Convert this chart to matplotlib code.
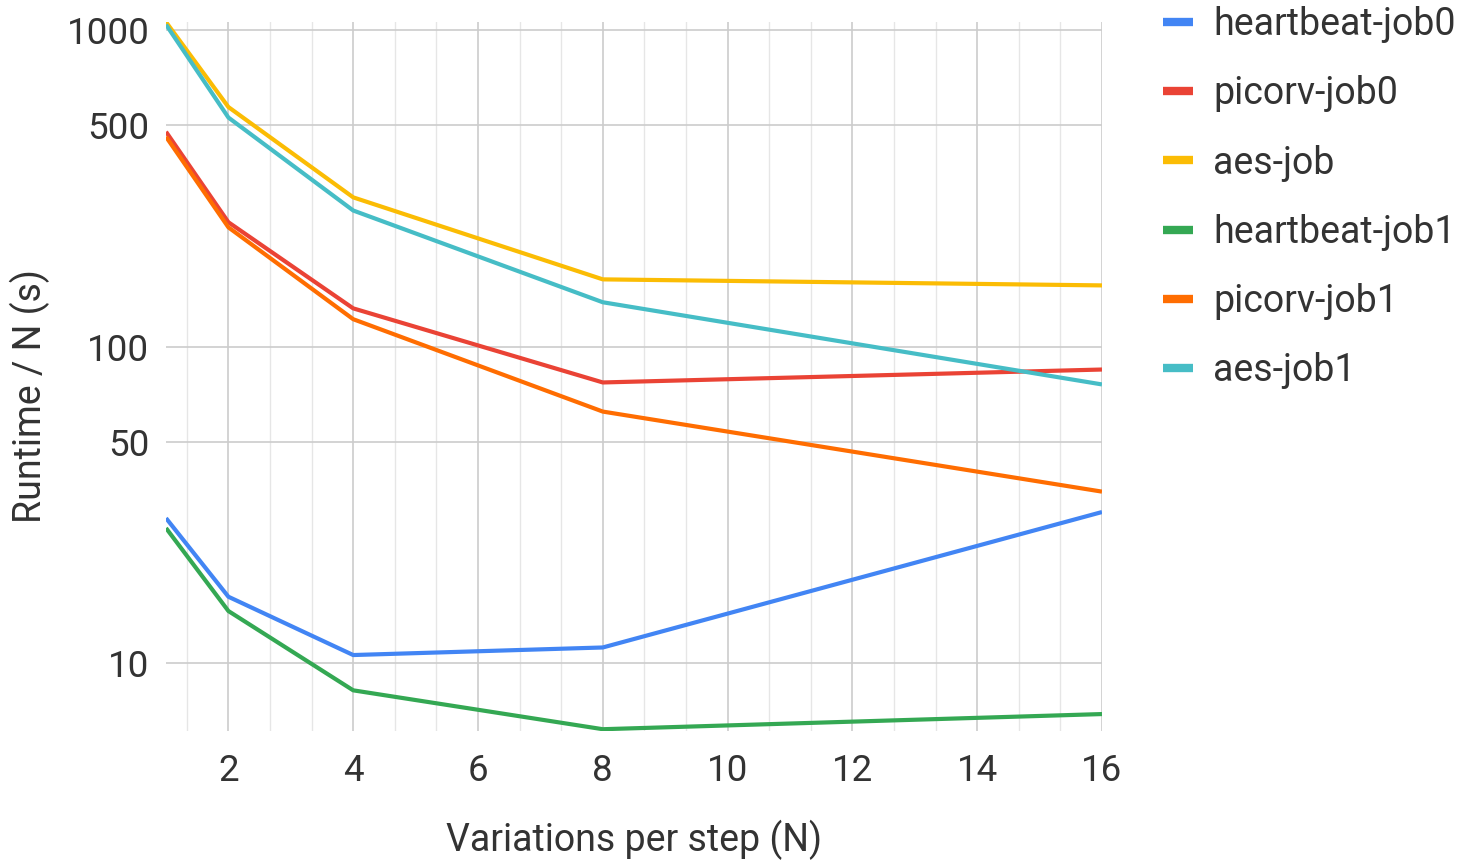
import matplotlib
matplotlib.use("Agg")
import matplotlib.pyplot as plt
from matplotlib.ticker import FixedLocator, MultipleLocator, NullFormatter, NullLocator

plt.rcParams['font.family'] = ['Roboto', 'DejaVu Sans']

# Data
n_values = [1, 2, 4, 8, 16]
series_names = ["heartbeat-job0", "picorv-job0", "aes-job",
                "heartbeat-job1", "picorv-job1", "aes-job1"]
heartbeat_job0 = [28.7, 16.2, 10.6, 11.2, 30.0]
picorv_job0 = [477, 247, 132, 77, 84.6]
aes_job = [1060, 571, 296, 163, 156]
heartbeat_job1 = [26.7, 14.6, 8.2, 6.18, 6.9]
picorv_job1 = [460, 238, 122, 62.3, 34.8]
aes_job1 = [1040, 529, 269, 138, 75.9]
series_values = [heartbeat_job0, picorv_job0, aes_job,
                 heartbeat_job1, picorv_job1, aes_job1]
colors = ["#4285F4", "#EA4335", "#FBBC04", "#34A853", "#FF6D01", "#46BDC6"]

y_ticks = [10, 50, 100, 500, 1000]
y_ticklabels = ["10", "50", "100", "500", "1000"]
x_ticks = [2, 4, 6, 8, 10, 12, 14, 16]

text_color = '#333333'

fig = plt.figure(figsize=(14.62, 8.61), dpi=100)
ax = fig.add_axes([166 / 1462, 1 - 731 / 861, (1102 - 166) / 1462, (731 - 22) / 861])

for name, vals, c in zip(series_names, series_values, colors):
    ax.plot(n_values, vals, color=c, lw=3, label=name,
            solid_joinstyle='round', solid_capstyle='butt', zorder=3)

ax.set_yscale('log')
ax.set_xlim(1, 16)
ax.set_ylim(6.1, 1060)

ax.yaxis.set_major_locator(FixedLocator(y_ticks))
ax.set_yticklabels(y_ticklabels)
ax.yaxis.set_minor_locator(NullLocator())
ax.yaxis.set_minor_formatter(NullFormatter())
ax.xaxis.set_major_locator(FixedLocator(x_ticks))
ax.xaxis.set_minor_locator(MultipleLocator(2 / 3))

ax.grid(True, which='major', axis='both', color='#cccccc', lw=1.2, zorder=0)
ax.grid(True, which='minor', axis='x', color='#e6e6e6', lw=1.0, zorder=0)

for s in ax.spines.values():
    s.set_visible(False)

ax.tick_params(axis='both', which='both', length=0, labelsize=26.5, labelcolor=text_color)
ax.tick_params(axis='x', pad=16)
ax.tick_params(axis='y', pad=12)

ax.set_xlabel("Variations per step (N)", fontsize=27, color=text_color, labelpad=22)
ax.set_ylabel("Runtime / N (s)", fontsize=27, color=text_color)
ax.yaxis.set_label_coords((50 - 166) / 936, (731 - 396) / 709)

leg = ax.legend(loc='upper left', bbox_to_anchor=(1163 / 1462, 1 - 6 / 861),
                bbox_transform=fig.transFigure, frameon=False, fontsize=27,
                handlelength=0.8, handletextpad=0.53, labelspacing=0.86,
                borderaxespad=0, borderpad=0)
for t in leg.get_texts():
    t.set_color(text_color)
for h in leg.get_lines():
    h.set_linewidth(6)
    h.set_solid_capstyle('butt')

fig.savefig("out.png", dpi=100)
